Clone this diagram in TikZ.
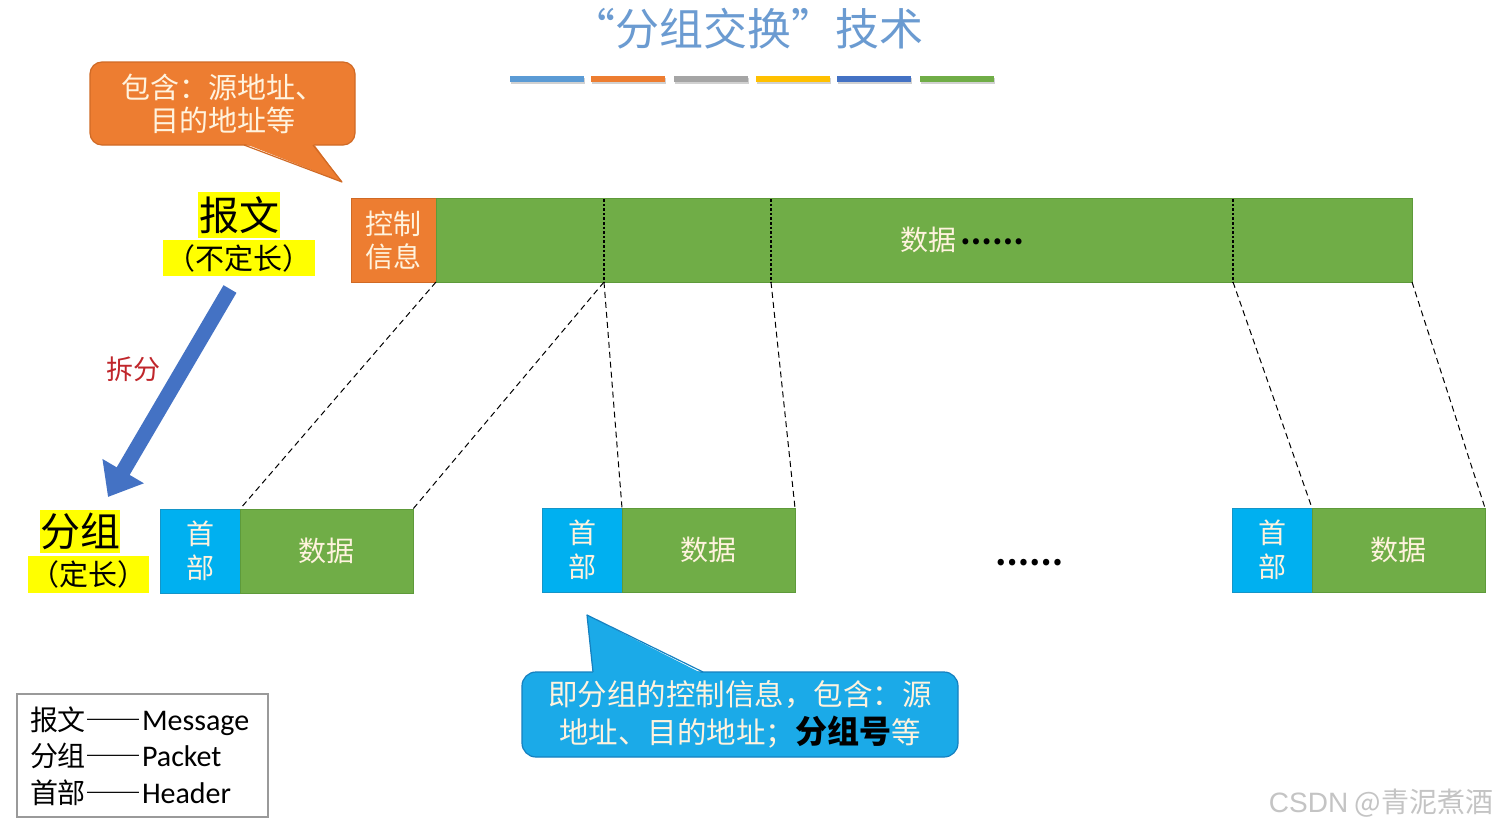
\documentclass[tikz,border=0pt]{standalone}
\usepackage{fontspec}
\setmainfont{Noto Sans CJK SC}
\newfontfamily\cjkfw{Noto Sans CJK SC}[RawFeature=+fwid]
\newfontfamily\latfont{Carlito}
\newfontfamily\markfont{Liberation Sans}
\usetikzlibrary{arrows.meta}
\definecolor{titleblue}{HTML}{6B9BD1}
\definecolor{cBlue}{HTML}{5B9BD5}
\definecolor{cOrange}{HTML}{ED7D31}
\definecolor{cGray}{HTML}{A5A5A5}
\definecolor{cGold}{HTML}{FFC000}
\definecolor{cDark}{HTML}{4472C4}
\definecolor{cGreen}{HTML}{70AD47}
\definecolor{greenBorder}{HTML}{5E9A3A}
\definecolor{orangeBorder}{HTML}{D06A25}
\definecolor{hdrBlue}{HTML}{00B0F0}
\definecolor{hdrBorder}{HTML}{1495C8}
\definecolor{callBlue}{HTML}{1BAAE8}
\definecolor{callBorder}{HTML}{1580C0}
\definecolor{lightText}{HTML}{FFF3DE}
\definecolor{splitRed}{HTML}{C0262B}
\definecolor{hlYellow}{HTML}{FFFF00}
\definecolor{legGray}{HTML}{9A9A9A}
\definecolor{markGray}{HTML}{C4C4C4}
\tikzset{
  every node/.style={inner sep=0pt, outer sep=0pt},
  colorbar/.style={fill=#1, draw=none},
  barshadow/.style={fill=black, opacity=0.18, draw=none},
  ocall/.style={fill=cOrange, draw=orangeBorder, line width=1.2pt, rounded corners=12pt, align=center, text=lightText, font=\cjkfw\fontsize{29}{33}\selectfont},
  bcall/.style={fill=callBlue, draw=callBorder, line width=1.2pt, rounded corners=14pt, align=center, text=lightText, font=\cjkfw\fontsize{29.5}{38}\selectfont},
  obox/.style={fill=cOrange, draw=orangeBorder, line width=1pt, minimum width=85pt, minimum height=84pt, align=center, text=lightText, font=\fontsize{28}{33}\selectfont},
  gbox/.style={fill=cGreen, draw=greenBorder, line width=1pt, minimum height=84pt, text=lightText, font=\fontsize{28}{33}\selectfont},
  hbox/.style={fill=hdrBlue, draw=hdrBorder, line width=1pt, minimum width=80pt, minimum height=84pt, align=center, text=lightText, font=\fontsize{28}{34}\selectfont},
  hl/.style={fill=hlYellow, text=black},
  divider/.style={black, dotted, line width=2.6pt},
  dashline/.style={black, line width=1pt, dash pattern=on 6pt off 4pt},
  bigarrow/.style={draw=cDark, line width=15pt, -{Triangle[width=46pt,length=30pt]}},
}
\begin{document}
\begin{tikzpicture}[x=1pt,y=-1pt]
\useasboundingbox[fill=white] (0,0) rectangle (1500,830);

% title
\node[text=titleblue, font=\cjkfw\fontsize{44}{48}\selectfont] (title) at (747,29) {“分组交换”技术};

% colour bars
\foreach \n/\xa/\c in {b1/510/cBlue, b2/591/cOrange, b3/674/cGray, b4/756/cGold, b5/837/cDark, b6/920/cGreen}{
  \fill[barshadow] (\xa+1,78) rectangle (\xa+75,84);
  \node[colorbar=\c, minimum width=74pt, minimum height=6pt, anchor=north west] (\n) at (\xa,76) {};
}

% orange callout
\node[ocall, minimum width=265pt, minimum height=83pt] (callA) at (222.5,103.5) {包含：源地址、\\目的地址等};
\fill[cOrange] (243,143) -- (342,182) -- (313,143) -- cycle;
\draw[orangeBorder, line width=1.2pt, line join=round] (244,145) -- (342,182) -- (313,145);

% message bar
\node[obox, anchor=north west] (ctrl) at (351,198) {控制\\信息};
\node[gbox, minimum width=976pt, anchor=north west] (msg) at (436,198) {};
\node[text=lightText, font=\fontsize{28}{33}\selectfont] (msgtxt) at (962,240) {数据\,{\color{black}\bfseries\raisebox{6pt}{……}}};
\foreach \n/\xx in {s1/604, s2/771, s3/1233}{
  \coordinate (\n t) at (\xx,199);
  \coordinate (\n b) at (\xx,282);
  \draw[divider] (\n t) -- (\n b);
}

% labels
\node[hl, minimum width=82pt, minimum height=46pt, font=\fontsize{40}{40}\selectfont] (baowen) at (239,215) {报文};
\node[hl, minimum width=152pt, minimum height=36pt, font=\cjkfw\fontsize{29}{30}\selectfont] (buding) at (239,258) {（不定长）};
\node[hl, minimum width=80pt, minimum height=43pt, font=\fontsize{40}{40}\selectfont] (fenzu) at (80,531.5) {分组};
\node[hl, minimum width=121pt, minimum height=37pt, font=\cjkfw\fontsize{29}{30}\selectfont] (dingchang) at (88.5,574.5) {（定长）};

% split arrow
\coordinate (arrS) at (230,289);
\coordinate (arrE) at (108,497);
\draw[bigarrow] (arrS) -- (arrE);
\node[text=splitRed, font=\fontsize{27}{30}\selectfont] (split) at (133,369) {拆分};

% packets
\foreach \i/\xx/\yy in {1/160/509, 2/542/508, 3/1232/508}{
  \node[hbox, anchor=north west] (h\i) at (\xx,\yy) {\raisebox{-2pt}{首}\\\raisebox{-2pt}{部}};
  \node[gbox, minimum width=173pt, anchor=north west] (d\i) at (h\i.north east) {数据};
}
\node[font=\bfseries\fontsize{30}{30}\selectfont] (dots) at (1029,563) {……};

% dashed connectors
\draw[dashline] (ctrl.south east) -- (h1.north east);
\draw[dashline] (s1b) -- (d1.north east);
\draw[dashline] (s1b) -- (h2.north east);
\draw[dashline] (s2b) -- (d2.north east);
\draw[dashline] (s3b) -- (h3.north east);
\draw[dashline] (msg.south east) -- (d3.north east);

% blue callout
\node[bcall, minimum width=436pt, minimum height=85pt] (callB) at (740,714.5) {即分组的控制信息，包含：源\\地址、目的地址；{\color{black}\bfseries\fontsize{32}{38}\selectfont 分组号}等};
\fill[callBlue] (593,674) -- (587,615) -- (703,674) -- cycle;
\draw[callBorder, line width=1.2pt, line join=round] (593,672) -- (587,615) -- (703,672);

% legend
\node[draw=legGray, line width=1.5pt, minimum width=251pt, minimum height=123pt, anchor=north west] (legbox) at (17,694) {};
\node[anchor=west, align=left, font=\cjkfw\fontsize{28}{36.5}\selectfont] (legend) at (30,756) {报文——{\latfont\fontsize{30}{36.5}\selectfont Message}\\分组——{\latfont\fontsize{30}{36.5}\selectfont Packet}\\首部——{\latfont\fontsize{30}{36.5}\selectfont Header}};

% watermark
\node[text=markGray, font=\fontsize{28}{30}\selectfont] (mark) at (1381,803) {{\markfont CSDN} @青泥煮酒};
\end{tikzpicture}
\end{document}
